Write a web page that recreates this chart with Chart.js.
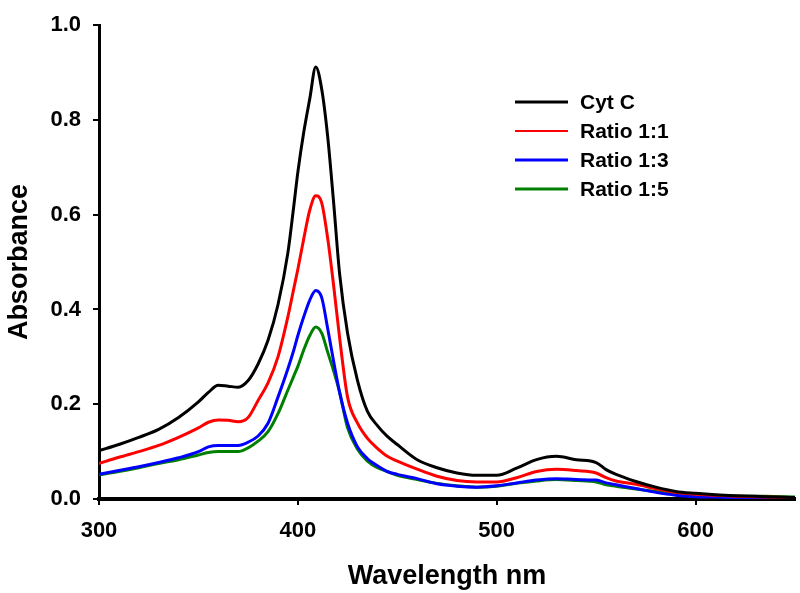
<!DOCTYPE html>
<html>
<head>
<meta charset="utf-8">
<script src="https://cdn.jsdelivr.net/npm/chart.js@4/dist/chart.umd.min.js"></script>
<style>
  html, body { margin: 0; padding: 0; background: #fff; }
  #wrap { width: 800px; height: 593px; }
</style>
</head>
<body>
<div id="wrap"><canvas id="specChart" width="800" height="593"></canvas></div>
<script>
// wavelengths (nm) shared by all spectra
const wavelengths = [300, 310, 320, 330, 340, 350, 355, 360, 365, 370, 375, 380, 385, 390, 395, 398, 400, 403, 406, 409, 412, 415, 418, 421, 425, 430, 435, 440, 445, 450, 460, 470, 480, 490, 500, 510, 520, 530, 540, 550, 555, 560, 570, 580, 590, 600, 610, 620, 635, 650];

const cytC = [0.102, 0.115, 0.130, 0.147, 0.172, 0.205, 0.225, 0.240, 0.238, 0.236, 0.250, 0.285, 0.335, 0.410, 0.520, 0.620, 0.690, 0.775, 0.845, 0.912, 0.865, 0.765, 0.625, 0.475, 0.350, 0.250, 0.185, 0.155, 0.132, 0.115, 0.083, 0.066, 0.055, 0.050, 0.050, 0.065, 0.083, 0.090, 0.083, 0.077, 0.062, 0.052, 0.037, 0.025, 0.016, 0.012, 0.009, 0.007, 0.005, 0.003];
const ratio11 = [0.075, 0.088, 0.100, 0.113, 0.130, 0.150, 0.162, 0.167, 0.166, 0.163, 0.172, 0.208, 0.245, 0.300, 0.385, 0.445, 0.485, 0.550, 0.610, 0.640, 0.625, 0.550, 0.450, 0.340, 0.215, 0.160, 0.128, 0.107, 0.090, 0.080, 0.063, 0.048, 0.039, 0.036, 0.036, 0.045, 0.058, 0.063, 0.060, 0.055, 0.045, 0.038, 0.031, 0.022, 0.014, 0.010, 0.008, 0.006, 0.004, 0.003];
const ratio13 = [0.052, 0.060, 0.068, 0.077, 0.087, 0.100, 0.110, 0.113, 0.113, 0.113, 0.120, 0.133, 0.160, 0.215, 0.275, 0.315, 0.345, 0.385, 0.420, 0.440, 0.425, 0.360, 0.290, 0.225, 0.160, 0.110, 0.085, 0.070, 0.058, 0.052, 0.043, 0.032, 0.027, 0.025, 0.028, 0.034, 0.040, 0.043, 0.041, 0.040, 0.034, 0.030, 0.022, 0.014, 0.008, 0.005, 0.004, 0.003, 0.003, 0.002];
const ratio15 = [0.051, 0.058, 0.066, 0.075, 0.083, 0.093, 0.098, 0.100, 0.100, 0.100, 0.108, 0.122, 0.142, 0.180, 0.230, 0.260, 0.280, 0.315, 0.345, 0.363, 0.350, 0.310, 0.270, 0.225, 0.150, 0.105, 0.080, 0.066, 0.058, 0.050, 0.041, 0.033, 0.028, 0.025, 0.027, 0.033, 0.038, 0.041, 0.039, 0.036, 0.030, 0.027, 0.021, 0.016, 0.012, 0.009, 0.007, 0.006, 0.006, 0.004];

const seriesNames = ['Cyt C', 'Ratio 1:1', 'Ratio 1:3', 'Ratio 1:5'];
const seriesColors = ['#000000', '#ff0000', '#0000ff', '#008000'];
const xTicks = [300, 400, 500, 600];

const FONT = '"Liberation Sans", Arial, sans-serif';

function toPoints(vals) {
    return vals.map((v, i) => ({ x: wavelengths[i], y: v }));
}

const allSeries = [cytC, ratio11, ratio13, ratio15];

// legend drawn inside the plot, top right
const insideLegend = {
    id: 'insideLegend',
    afterDraw(chart) {
        const c = chart.ctx;
        c.save();
        c.font = 'bold 21px ' + FONT;
        c.textBaseline = 'middle';
        chart.data.datasets.forEach((ds, i) => {
            const y = 102 + i * 29;
            c.strokeStyle = ds.borderColor;
            c.lineWidth = i === 1 ? 2 : 3;
            c.beginPath();
            c.moveTo(515, y);
            c.lineTo(568, y);
            c.stroke();
            c.fillStyle = '#000';
            c.fillText(ds.label, 580, y + 1);
        });
        c.restore();
    }
};

const ctx = document.getElementById('specChart').getContext('2d');

new Chart(ctx, {
    type: 'line',
    data: {
        datasets: allSeries.map((vals, i) => ({
            label: seriesNames[i],
            data: toPoints(vals),
            borderColor: seriesColors[i],
            borderWidth: 3,
            pointRadius: 0,
            fill: false,
            cubicInterpolationMode: 'monotone'
        }))
    },
    options: {
        responsive: false,
        animation: false,
        layout: { padding: { top: 15, right: 5, left: 0, bottom: 0 } },
        plugins: {
            legend: { display: false },
            tooltip: { enabled: false }
        },
        scales: {
            x: {
                type: 'linear',
                min: 300,
                max: 650,
                afterBuildTicks(axis) {
                    axis.ticks = xTicks.map(v => ({ value: v }));
                },
                afterFit(axis) { axis.height = 94; },
                border: { display: true, color: '#000', width: 4 },
                grid: { drawOnChartArea: false, drawTicks: true, tickLength: 6, color: '#000', lineWidth: 2 },
                ticks: {
                    color: '#000',
                    padding: 13,
                    maxRotation: 0,
                    font: { family: FONT, size: 22, weight: 'bold' }
                },
                title: {
                    display: true,
                    text: 'Wavelength nm',
                    color: '#000',
                    padding: { top: 0, bottom: 0 },
                    font: { family: FONT, size: 27, weight: 'bold' }
                }
            },
            y: {
                min: 0,
                max: 1.0,
                afterFit(axis) { axis.width = 99; },
                border: { display: true, color: '#000', width: 3 },
                grid: { drawOnChartArea: false, drawTicks: true, tickLength: 6, color: '#000', lineWidth: 2 },
                ticks: {
                    stepSize: 0.2,
                    color: '#000',
                    padding: 12,
                    callback: v => v.toFixed(1),
                    font: { family: FONT, size: 22, weight: 'bold' }
                },
                title: {
                    display: true,
                    text: 'Absorbance',
                    color: '#000',
                    padding: { top: 3, bottom: 0 },
                    font: { family: FONT, size: 27, weight: 'bold' }
                }
            }
        }
    },
    plugins: [insideLegend]
});
</script>
</body>
</html>
